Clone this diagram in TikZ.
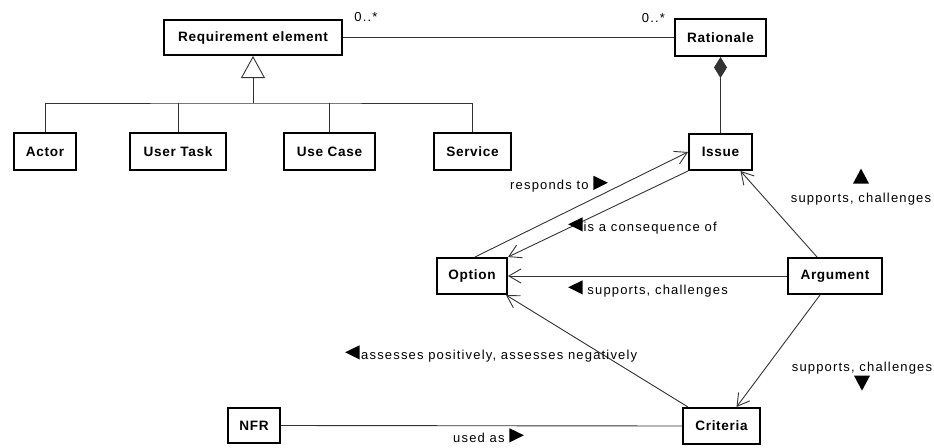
\documentclass[tikz,border=0pt]{standalone}
\usepackage{fontspec}
\usetikzlibrary{arrows.meta,calc}
\newfontfamily\lblfont[LetterSpace=9]{Liberation Sans}
\newfontfamily\boxfont[LetterSpace=5]{Liberation Sans}
% direction markers set inline with the association labels
\newcommand\tril{\tikz[baseline=0pt]\fill (0pt,6.75pt) -- (14.5pt,13.75pt) -- (14.5pt,-0.5pt) -- cycle;}
\newcommand\trir{\tikz[baseline=0pt]\fill (14.5pt,6.75pt) -- (0pt,13.75pt) -- (0pt,-0.5pt) -- cycle;}
\newcommand\triu{\tikz[baseline=0pt]\fill (0pt,0pt) -- (8pt,15pt) -- (16pt,0pt) -- cycle;}
\newcommand\trid{\tikz[baseline=0pt]\fill (0pt,15pt) -- (8pt,0pt) -- (16pt,15pt) -- cycle;}
\begin{document}
\begin{tikzpicture}[x=1pt,y=-1pt,
  umlbox/.style={draw, line width=2pt, inner sep=0pt, minimum height=36pt,
    font=\boxfont\bfseries\fontsize{13.6}{15}\selectfont},
  lbl/.style={inner sep=0pt, font=\lblfont\fontsize{13}{15}\selectfont},
  conn/.style={line width=0.9pt, draw=black!80},
  nav/.style={conn, -{Straight Barb[length=12pt,width=14pt]}},
]
\useasboundingbox (0,0) rectangle (934,447);

% classes
\node[umlbox, minimum width=178pt, minimum height=35pt] (req) at (253,37.5) {Requirement element};
\node[umlbox, minimum width=91pt, minimum height=37pt] (rat) at (720.5,37.5) {Rationale};
\node[umlbox, minimum width=63pt] (iss) at (720.5,152) {Issue};
\node[umlbox, minimum width=62pt, minimum height=37pt] (act) at (45,151.5) {Actor};
\node[umlbox, minimum width=96pt, minimum height=37pt] (ut) at (178,151.5) {User Task};
\node[umlbox, minimum width=91pt, minimum height=37pt] (uc) at (329.5,151.5) {Use Case};
\node[umlbox, minimum width=77pt, minimum height=37pt] (svc) at (472.5,151.5) {Service};
\node[umlbox, minimum width=70pt] (opt) at (472,276) {Option};
\node[umlbox, minimum width=94pt] (arg) at (835,276) {Argument};
\node[umlbox, minimum width=77pt] (crit) at (721.5,426) {Criteria};
\node[umlbox, minimum width=52pt, minimum height=35pt] (nfr) at (254,425.5) {NFR};

% generalization tree
\coordinate (fork) at (253,103);
\draw[conn, -{Triangle[open, length=22pt, width=24pt]}] (fork) -- (req.south);
\draw[conn] (act.north) |- (fork) -| (svc.north);
\draw[conn] (ut.north) -- (ut.north |- fork);
\draw[conn] (uc.north) -- (uc.north |- fork);

% association and composition
\draw[conn] (req.east) -- (rat.west);
\node[lbl] (m1) at (366,17.5) {0..*};
\node[lbl] (m2) at (653.5,18) {0..*};
\draw[conn, {Diamond[length=21pt,width=13pt]}-] (rat.south) -- (iss.north);

% rationale relations
\draw[nav] ($(opt.north)+(3,0)$) -- (iss.west);
\draw[nav] (iss.south west) -- (opt.north east);
\draw[nav] ($(arg.north)+(-18,0)$) -- ($(iss.south)+(20,0)$);
\draw[nav] (arg.west) -- (opt.east);
\draw[nav] ($(arg.south)+(-15,0)$) -- ($(crit.north)+(15,0)$);
\draw[nav] ($(crit.north west)+(6,0)$) -- ($(opt.south east)+(-2,0)$);
\draw[conn] (nfr.east) -- (crit.west);

% relation labels
\node[lbl, anchor=base west] (lresp) at (510,189.5) {responds to \trir};
\node[lbl, anchor=base west] (lcons) at (568,231) {\tril\hspace{0.8pt}is a consequence of};
\node[lbl, anchor=base west] (lopt) at (568,294) {\tril\ supports, challenges};
\node[lbl, anchor=base west] (lass) at (345,359) {\tril\hspace{1.5pt}assesses positively, assesses negatively};
\node[lbl, anchor=base west] (lused) at (453,442) {used as \trir};
\node[lbl, align=center, anchor=south, font=\lblfont\fontsize{13}{18.5}\selectfont]
  (lsupi) at (861,205) {\triu\\supports, challenges};
\node[lbl, align=center, anchor=north, font=\lblfont\fontsize{13}{19}\selectfont]
  (lsupc) at (862,362) {supports, challenges\\\trid};
\end{tikzpicture}
\end{document}
